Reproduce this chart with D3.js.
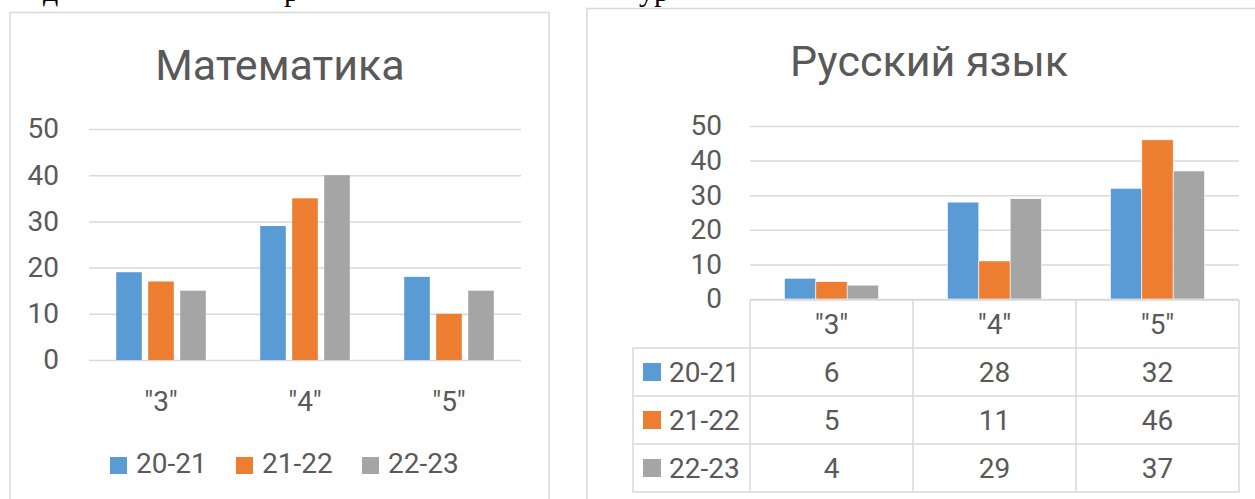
<!DOCTYPE html>
<html lang="ru">
<head>
<meta charset="utf-8">
<title>Математика / Русский язык</title>
<script src="https://cdn.jsdelivr.net/npm/d3@7"></script>
<style>
  body { margin: 0; background: #fff; }
  text { font-family: Roboto, "Open Sans", sans-serif; fill: #595959; }
</style>
</head>
<body>
<script>
// data
var categories = ['"3"', '"4"', '"5"'];
var seriesNames = ["20-21", "21-22", "22-23"];
var mathValues = [[19, 29, 18], [17, 35, 10], [15, 40, 15]];
var rusValues = [[6, 28, 32], [5, 11, 46], [4, 29, 37]];
var yTicks = [0, 10, 20, 30, 40, 50];
var colors = ["#5B9BD5", "#ED7D31", "#A5A5A5"];

var w = 1255, h = 499;
var grid = "#D9D9D9";

var svg = d3.select("body").append("svg")
    .attr("width", w)
    .attr("height", h);

svg.append("rect").attr("width", w).attr("height", h).attr("fill", "#fff");

// cut off line of the document text above the charts
var frag = [["д", 43], ["р", 284], ["ур", 639]];
svg.selectAll("text.frag")
    .data(frag)
    .enter()
    .append("text")
    .attr("class", "frag")
    .attr("x", function(d) { return d[1]; })
    .attr("y", 0.5)
    .style("font-family", "'Liberation Serif', serif")
    .style("font-size", "30px")
    .style("fill", "#000")
    .text(function(d) { return d[0]; });

// chart frames
svg.append("rect")
    .attr("x", 10).attr("y", 12.5)
    .attr("width", 539).attr("height", 600)
    .attr("fill", "none").attr("stroke", grid).attr("stroke-width", 1.5);
svg.append("rect")
    .attr("x", 587).attr("y", 8.5)
    .attr("width", 700).attr("height", 600)
    .attr("fill", "none").attr("stroke", grid).attr("stroke-width", 1.5);

function styleAxis(g) {
    g.select(".domain").remove();
    g.selectAll("line").attr("stroke", grid).attr("stroke-width", 1.5);
    g.selectAll("text")
        .style("font-family", "Roboto, sans-serif")
        .style("font-size", "28px")
        .attr("fill", "#595959");
}

// ---------- left chart: Математика ----------
var L = { left: 89, right: 521, top: 129, bottom: 360 };

var x0 = d3.scaleBand().domain(categories).range([L.left, L.right]);
var x1 = d3.scaleBand().domain(seriesNames)
    .range([0, x0.bandwidth()])
    .paddingInner(0.2).paddingOuter(0.85);
var y = d3.scaleLinear().domain([0, 50]).range([L.bottom, L.top]);

svg.append("text")
    .attr("x", 280).attr("y", 80)
    .attr("text-anchor", "middle")
    .style("font-size", "43px")
    .text("Математика");

svg.append("g")
    .attr("transform", "translate(" + L.left + ",0)")
    .call(d3.axisLeft(y).tickValues(yTicks).tickSize(-(L.right - L.left)).tickPadding(30))
    .call(styleAxis);

svg.append("g")
    .attr("transform", "translate(0," + L.bottom + ")")
    .call(d3.axisBottom(x0).tickSize(0).tickPadding(31))
    .call(styleAxis);

var mathGroups = svg.selectAll("g.mathSeries")
    .data(mathValues)
    .enter()
    .append("g")
    .attr("class", "mathSeries")
    .attr("fill", function(d, i) { return colors[i]; });

mathGroups.selectAll("rect")
    .data(function(d, i) {
        return d.map(function(v, j) { return { s: seriesNames[i], c: categories[j], v: v }; });
    })
    .enter()
    .append("rect")
    .attr("x", function(d) { return x0(d.c) + x1(d.s); })
    .attr("y", function(d) { return y(d.v); })
    .attr("width", x1.bandwidth())
    .attr("height", function(d) { return y(0) - y(d.v); });

// legend
var legend = svg.selectAll("g.legend")
    .data(seriesNames)
    .enter()
    .append("g")
    .attr("class", "legend")
    .attr("transform", function(d, i) { return "translate(" + (110 + i * 126) + ",457)"; });
legend.append("rect")
    .attr("width", 17).attr("height", 17)
    .attr("fill", function(d, i) { return colors[i]; });
legend.append("text")
    .attr("x", 26).attr("y", 16)
    .style("font-size", "28px")
    .text(function(d) { return d; });

// ---------- right chart: Русский язык ----------
var R = { left: 750, right: 1239, top: 126, bottom: 299, tableBottom: 492, labelLeft: 633 };

var cx = d3.scaleBand().domain(categories).range([R.left, R.right]);
var cx1 = d3.scaleBand().domain(seriesNames)
    .range([0, cx.bandwidth()])
    .paddingInner(0).paddingOuter(1.1);
var y2 = d3.scaleLinear().domain([0, 50]).range([R.bottom, R.top]);
var rows = d3.scaleBand().domain(["head"].concat(seriesNames)).range([R.bottom + 1, R.tableBottom]);

svg.append("text")
    .attr("x", 929).attr("y", 76)
    .attr("text-anchor", "middle")
    .style("font-size", "43px")
    .text("Русский язык");

svg.append("g")
    .attr("transform", "translate(" + R.left + ",0)")
    .call(d3.axisLeft(y2).tickValues(yTicks).tickSize(-(R.right - R.left)).tickPadding(28))
    .call(styleAxis);

var rusGroups = svg.selectAll("g.rusSeries")
    .data(rusValues)
    .enter()
    .append("g")
    .attr("class", "rusSeries")
    .attr("fill", function(d, i) { return colors[i]; });

rusGroups.selectAll("rect")
    .data(function(d, i) {
        return d.map(function(v, j) { return { s: seriesNames[i], c: categories[j], v: v }; });
    })
    .enter()
    .append("rect")
    .attr("x", function(d) { return cx(d.c) + cx1(d.s); })
    .attr("y", function(d) { return y2(d.v); })
    .attr("width", cx1.bandwidth())
    .attr("height", function(d) { return y2(0) - y2(d.v); })
    .attr("stroke", "#fff")
    .attr("stroke-width", 0.6);

// data table
var table = svg.append("g").attr("stroke", grid).attr("stroke-width", 1.5);
table.append("line")
    .attr("x1", R.left).attr("x2", R.right)
    .attr("y1", rows("head")).attr("y2", rows("head"));
table.selectAll("line.hrow")
    .data(seriesNames)
    .enter()
    .append("line")
    .attr("class", "hrow")
    .attr("x1", R.labelLeft).attr("x2", R.right)
    .attr("y1", function(d) { return rows(d); })
    .attr("y2", function(d) { return rows(d); });
table.append("line")
    .attr("x1", R.labelLeft).attr("x2", R.right)
    .attr("y1", R.tableBottom).attr("y2", R.tableBottom);
table.selectAll("line.vcol")
    .data(categories)
    .enter()
    .append("line")
    .attr("class", "vcol")
    .attr("x1", function(d) { return cx(d); })
    .attr("x2", function(d) { return cx(d); })
    .attr("y1", rows("head")).attr("y2", R.tableBottom);
table.append("line")
    .attr("x1", R.right).attr("x2", R.right)
    .attr("y1", rows("head")).attr("y2", R.tableBottom);
table.append("line")
    .attr("x1", R.labelLeft).attr("x2", R.labelLeft)
    .attr("y1", rows(seriesNames[0])).attr("y2", R.tableBottom);

svg.selectAll("text.colHead")
    .data(categories)
    .enter()
    .append("text")
    .attr("class", "colHead")
    .attr("x", function(d) { return cx(d) + cx.bandwidth() / 2; })
    .attr("y", rows("head") + rows.bandwidth() / 2)
    .attr("dy", "0.36em")
    .attr("text-anchor", "middle")
    .style("font-size", "28px")
    .text(function(d) { return d; });

var tRows = svg.selectAll("g.trow")
    .data(rusValues)
    .enter()
    .append("g")
    .attr("class", "trow")
    .attr("transform", function(d, i) { return "translate(0," + (rows(seriesNames[i]) + rows.bandwidth() / 2) + ")"; });

tRows.append("rect")
    .attr("x", 643).attr("y", -9)
    .attr("width", 18).attr("height", 18)
    .attr("fill", function(d, i) { return colors[i]; });
tRows.append("text")
    .attr("x", 669).attr("dy", "0.36em")
    .style("font-size", "28px")
    .text(function(d, i) { return seriesNames[i]; });

tRows.selectAll("text.val")
    .data(function(d) { return d; })
    .enter()
    .append("text")
    .attr("class", "val")
    .attr("x", function(d, j) { return cx(categories[j]) + cx.bandwidth() / 2; })
    .attr("dy", "0.36em")
    .attr("text-anchor", "middle")
    .style("font-size", "28px")
    .text(function(d) { return d; });
</script>
</body>
</html>
